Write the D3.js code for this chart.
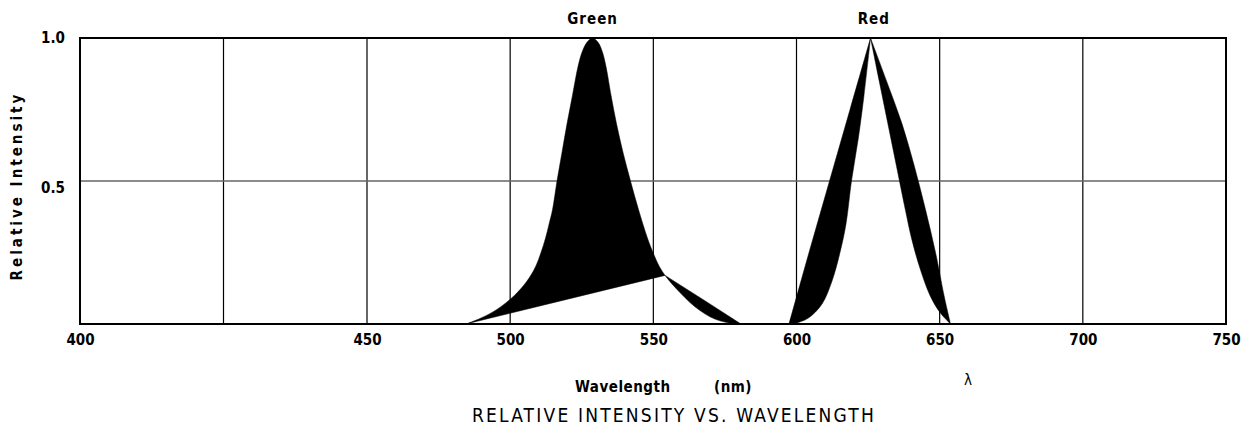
<!DOCTYPE html>
<html>
<head>
<meta charset="utf-8">
<script src="https://cdn.jsdelivr.net/npm/d3@7"></script>
<style>
  body { margin: 0; background: #fff; }
  svg text { font-family: "DejaVu Sans Condensed", "DejaVu Sans", sans-serif; fill: #000; }
  .tick text { font-weight: bold; font-size: 15px; }
</style>
</head>
<body>
<div class="spectrum"></div>
<script>
// wavelength (nm) grid + labels
var gridNm = [400, 425, 450, 500, 550, 600, 650, 700, 750];
var tickNm = [400, 450, 500, 550, 600, 650, 700, 750];
var yTicks = [0.5, 1.0];

// green: spectrum curve and the straight lower edge, [nm, relative intensity]
var greenCurve = [
  [484.58, 0], [489.64, 0.02], [495.23, 0.05], [501.51, 0.1], [505.88, 0.15],
  [508.85, 0.2], [510.77, 0.25], [512.34, 0.3], [513.6, 0.35], [514.8, 0.4],
  [516.36, 0.5], [518.1, 0.6], [519.85, 0.7], [521.77, 0.8], [523.69, 0.9],
  [525.09, 0.95], [526.83, 0.985], [528.76, 1.0], [530.68, 0.985], [532.25, 0.95],
  [533.47, 0.9], [535.22, 0.8], [537.14, 0.7], [539.41, 0.6], [542.03, 0.5],
  [544.82, 0.4], [547.96, 0.3], [549.88, 0.25], [552.15, 0.2], [554.08, 0.17],
  [556.52, 0.14], [559.31, 0.11], [562.81, 0.075], [566.3, 0.047], [569.79, 0.025],
  [573.28, 0.011], [576.78, 0.003], [580.62, 0]
];
var greenEdge = [
  [484.58, 0], [554.08, 0.17], [567.3, 0.086], [580.62, 0]
];

// red: two narrow bands meeting at the peak
var redLeftOuter = [
  [597.38, 0], [604.37, 0.25], [611.53, 0.5], [618.69, 0.75], [625.85, 1.0]
];
var redLeftInner = [
  [598.95, 0], [604.02, 0.02], [608.91, 0.07], [612.4, 0.15], [615.19, 0.25],
  [617.29, 0.35], [619.2, 0.5], [621.6, 0.65], [623.58, 0.8], [625.85, 1.0]
];
var redRightInner = [
  [625.85, 1.0], [628.88, 0.85], [631.92, 0.7], [634.96, 0.55], [638.0, 0.4],
  [640.16, 0.3], [642.96, 0.2], [646.62, 0.1], [650.12, 0.04], [653.79, 0]
];
var redRightOuter = [
  [625.85, 1.0], [631.43, 0.85], [636.85, 0.7], [641.21, 0.55], [645.05, 0.4],
  [648.55, 0.25], [651.52, 0.1], [653.09, 0.03], [653.79, 0]
];

var width = 1248, height = 434;
var margin = { top: 38, right: 22, bottom: 110, left: 80 };

var svg = d3
  .select(".spectrum")
  .append("svg")
  .attr("width", width)
  .attr("height", height);

// first 50 nm stretched over two grid cells
var x = d3
  .scaleLinear()
  .domain([400, 450, 750])
  .range([margin.left, 367, width - margin.right]);
var y = d3
  .scaleLinear()
  .domain([0, 1])
  .range([height - margin.bottom, margin.top]);

// grid
svg
  .selectAll(".vgrid")
  .data(gridNm)
  .enter()
  .append("line")
  .attr("x1", function (d) { return x(d); })
  .attr("x2", function (d) { return x(d); })
  .attr("y1", y(0))
  .attr("y2", y(1))
  .attr("stroke", "#000")
  .attr("stroke-width", 1.2);

svg
  .append("line")
  .attr("x1", x(400))
  .attr("x2", x(750))
  .attr("y1", y(0.5))
  .attr("y2", y(0.5))
  .attr("stroke", "#666")
  .attr("stroke-width", 1.5);

// bands
function lineWith(curve) {
  return d3
    .line()
    .x(function (d) { return x(d[0]); })
    .y(function (d) { return y(d[1]); })
    .curve(curve);
}
var smooth = lineWith(d3.curveCatmullRom.alpha(0.5));
var straight = lineWith(d3.curveLinear);

function band(a, b, lineB) {
  return smooth(a) + lineB(b.slice().reverse()).replace(/^M/, "L") + "Z";
}

svg
  .selectAll(".band")
  .data([
    band(greenCurve, greenEdge, straight),
    band(redLeftOuter, redLeftInner, smooth),
    band(redRightInner, redRightOuter, smooth)
  ])
  .enter()
  .append("path")
  .attr("d", function (d) { return d; })
  .attr("fill", "#000")
  .attr("stroke", "#000")
  .attr("stroke-width", 0.5);

// frame
svg
  .append("rect")
  .attr("x", x(400))
  .attr("y", y(1))
  .attr("width", x(750) - x(400))
  .attr("height", y(0) - y(1))
  .attr("fill", "none")
  .attr("stroke", "#000")
  .attr("stroke-width", 2);

// x tick labels
var xAxis = svg
  .append("g")
  .attr("transform", "translate(0," + (y(0) + 6) + ")")
  .call(d3.axisBottom(x).tickValues(tickNm).tickSize(0).tickFormat(d3.format("d")));
xAxis.select(".domain").remove();
xAxis.selectAll("text").attr("dy", "0.71em").attr("y", 4);

// y tick labels
svg
  .selectAll(".ylab")
  .data(yTicks)
  .enter()
  .append("text")
  .attr("x", 65)
  .attr("y", function (d) { return y(d) + (d === 1 ? 5 : 12); })
  .attr("text-anchor", "end")
  .style("font-weight", "bold")
  .style("font-size", "15px")
  .text(function (d) { return d.toFixed(1); });

// titles
svg
  .append("text")
  .attr("transform", "translate(22," + ((y(0) + y(1)) / 2 + 5) + ") rotate(-90)")
  .attr("text-anchor", "middle")
  .style("font-weight", "bold")
  .style("font-size", "15px")
  .style("letter-spacing", "3px")
  .text("Relative Intensity");

svg
  .append("text")
  .attr("x", x(528.8))
  .attr("y", 24)
  .attr("text-anchor", "middle")
  .style("font-weight", "bold")
  .style("font-size", "15px")
  .style("letter-spacing", "1px")
  .text("Green");

svg
  .append("text")
  .attr("x", x(627))
  .attr("y", 24)
  .attr("text-anchor", "middle")
  .style("font-weight", "bold")
  .style("font-size", "15px")
  .style("letter-spacing", "1px")
  .text("Red");

svg
  .append("text")
  .attr("x", 575)
  .attr("y", 392)
  .style("font-weight", "bold")
  .style("font-size", "15px")
  .style("letter-spacing", "0.5px")
  .text("Wavelength");

svg
  .append("text")
  .attr("x", 714)
  .attr("y", 392)
  .style("font-weight", "bold")
  .style("font-size", "15px")
  .style("letter-spacing", "0.5px")
  .text("(nm)");

svg
  .append("text")
  .attr("x", 968)
  .attr("y", 385)
  .attr("text-anchor", "middle")
  .style("font-size", "15px")
  .text("λ");

svg
  .append("text")
  .attr("x", 674)
  .attr("y", 422)
  .attr("text-anchor", "middle")
  .style("font-size", "19px")
  .style("letter-spacing", "2.2px")
  .text("RELATIVE INTENSITY VS. WAVELENGTH");
</script>
</body>
</html>
